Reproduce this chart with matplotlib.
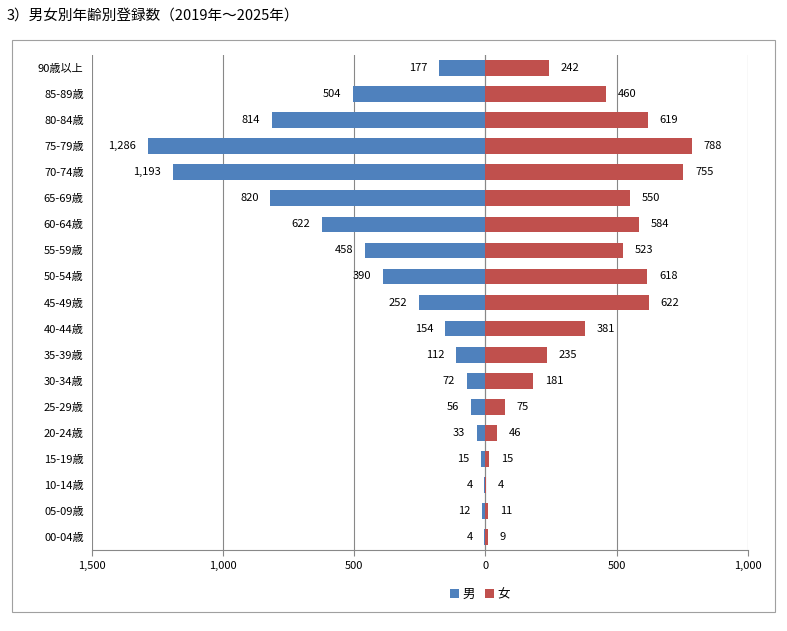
import matplotlib
matplotlib.use("Agg")
import matplotlib.pyplot as plt
from matplotlib.patches import Rectangle
from matplotlib.ticker import FuncFormatter

plt.rcParams['font.family'] = ['Noto Sans CJK JP', 'DejaVu Sans']

ages = ["90歳以上","85-89歳","80-84歳","75-79歳","70-74歳","65-69歳","60-64歳","55-59歳",
        "50-54歳","45-49歳","40-44歳","35-39歳","30-34歳","25-29歳","20-24歳","15-19歳",
        "10-14歳","05-09歳","00-04歳"]
male = [177,504,814,1286,1193,820,622,458,390,252,154,112,72,56,33,15,4,12,4]
female = [242,460,619,788,755,550,584,523,618,622,381,235,181,75,46,15,4,11,9]

blue = "#4F81BD"
red = "#C0504D"

fig = plt.figure(figsize=(7.87, 6.31), dpi=100)
fig.patches.append(Rectangle((0.015, 0.030), 0.970, 0.907, transform=fig.transFigure,
                             fill=False, edgecolor="#A0A0A0", linewidth=0.8))
fig.text(0.008, 0.975, "3）男女別年齢別登録数（2019年～2025年）", fontsize=10.5, va="center", ha="left")

ax = fig.add_axes([0.117, 0.128, 0.833, 0.785])
y = list(range(len(ages)))
ax.barh(y, [-m for m in male], height=0.6, color=blue, label="男")
ax.barh(y, female, height=0.6, color=red, label="女")
for i, (m, f) in enumerate(zip(male, female)):
    ax.text(-m - 45, i, f"{m:,}", ha="right", va="center", fontsize=8)
    ax.text(f + 45, i, f"{f:,}", ha="left", va="center", fontsize=8)

ax.set_xlim(-1500, 1000)
ax.set_ylim(len(ages) - 0.5, -0.5)
ax.set_xticks([-1500, -1000, -500, 0, 500, 1000])
ax.xaxis.set_major_formatter(FuncFormatter(lambda v, p: f"{abs(int(v)):,}"))
ax.set_yticks(y)
ax.set_yticklabels(ages, fontsize=8)
ax.tick_params(axis='x', labelsize=8, length=4, color="#888888")
ax.tick_params(axis='y', length=0, pad=6)
ax.grid(axis='x', color="#888888", linewidth=0.8)
ax.set_axisbelow(True)
for s in ["top", "right", "left"]:
    ax.spines[s].set_visible(False)
ax.spines["bottom"].set_color("#888888")
ax.axvline(0, color="#888888", linewidth=0.8, zorder=0)

fig.legend(loc="center", bbox_to_anchor=(0.61, 0.058), ncol=2, frameon=False, fontsize=9,
           handlelength=0.7, handleheight=0.7, handletextpad=0.3, columnspacing=0.8)
fig.savefig("out.png", dpi=100)
